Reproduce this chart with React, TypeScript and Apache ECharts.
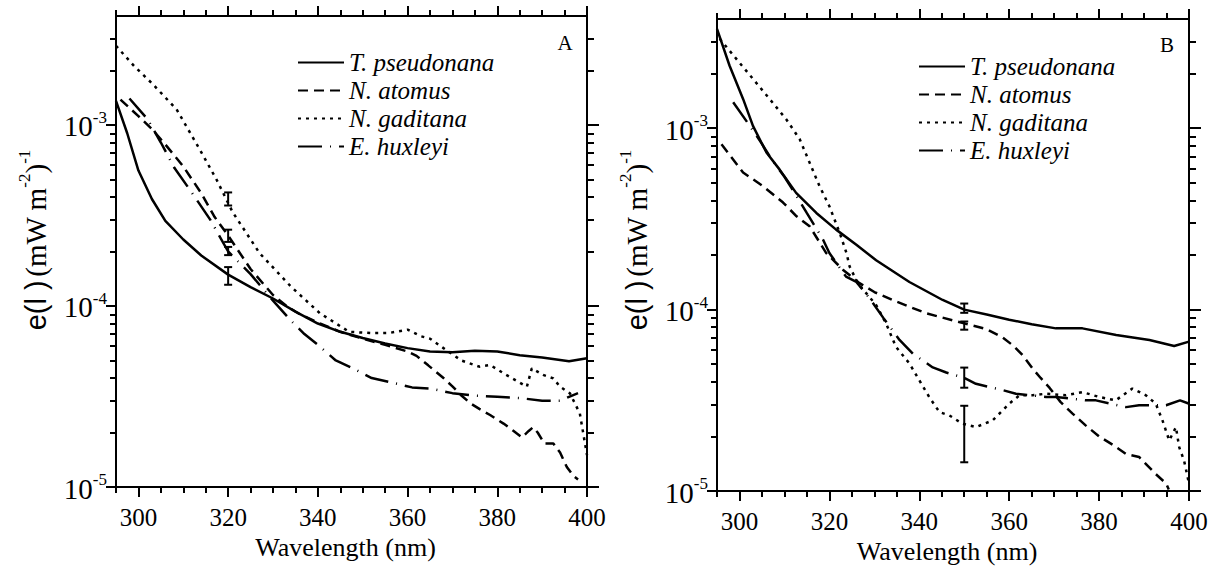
import React, { useEffect, useRef } from 'react';
import * as echarts from 'echarts';

const SERIF = 'Liberation Serif';
const SANS = 'Liberation Sans';

const seriesNames = ['T. pseudonana', 'N. atomus', 'N. gaditana', 'E. huxleyi'];

// ---------- Panel A ----------
const tpA_wl = [295, 297.5, 300, 303, 306, 310, 314, 320, 325, 330, 335, 340, 345, 350, 355, 360, 365, 370, 375, 380, 385, 390, 396, 400];
const tpA_v = [1.36e-3, 9.0e-4, 5.6e-4, 3.9e-4, 2.95e-4, 2.33e-4, 1.9e-4, 1.49e-4, 1.27e-4, 1.1e-4, 9.3e-5, 8.0e-5, 7.2e-5, 6.65e-5, 6.2e-5, 5.85e-5, 5.6e-5, 5.55e-5, 5.65e-5, 5.6e-5, 5.35e-5, 5.2e-5, 4.95e-5, 5.15e-5];

const naA_wl = [296, 300, 303, 306, 310, 314, 317, 320, 325, 330, 333, 336, 340, 345, 350, 355, 360, 362, 364.6, 366, 368, 370, 372, 374, 376, 378.4, 381.4, 383.5, 385.5, 387, 388, 389, 390.5, 392.5, 394, 395.5, 397, 398];
const naA_v = [1.38e-3, 1.12e-3, 9.5e-4, 7.8e-4, 5.9e-4, 4.2e-4, 3.1e-4, 2.45e-4, 1.6e-4, 1.15e-4, 1.0e-4, 9.0e-5, 8.1e-5, 7.2e-5, 6.6e-5, 6.1e-5, 5.6e-5, 5.3e-5, 4.7e-5, 4.4e-5, 4.0e-5, 3.6e-5, 3.2e-5, 2.9e-5, 2.7e-5, 2.5e-5, 2.24e-5, 2.05e-5, 1.88e-5, 2.04e-5, 2.14e-5, 2.0e-5, 1.74e-5, 1.74e-5, 1.55e-5, 1.29e-5, 1.15e-5, 1.1e-5];

const ngA_wl = [295, 299, 303, 308.5, 313.7, 317.4, 321, 327, 334, 340.5, 347, 352, 356, 360, 363, 365, 368, 372, 376, 378.4, 382, 386.6, 387.7, 390.2, 392.5, 394, 396.2, 398.4, 400];
const ngA_v = [2.74e-3, 2.12e-3, 1.7e-3, 1.22e-3, 7.3e-4, 5.0e-4, 3.3e-4, 1.96e-4, 1.28e-4, 9.1e-5, 7.2e-5, 7.08e-5, 7.1e-5, 7.4e-5, 6.8e-5, 6.6e-5, 5.85e-5, 5.0e-5, 4.62e-5, 4.72e-5, 4.16e-5, 3.58e-5, 4.53e-5, 4.16e-5, 3.98e-5, 3.58e-5, 3.29e-5, 2.55e-5, 1.5e-5];

const ehA_wl = [298, 302, 305, 308, 312, 316, 320, 325, 330, 334, 337, 340, 344, 348, 352, 356, 361, 365, 370, 375, 380, 385, 390, 394, 396, 398];
const ehA_v = [1.4e-3, 1.08e-3, 8.0e-4, 5.8e-4, 4.2e-4, 3.0e-4, 2.0e-4, 1.5e-4, 1.07e-4, 8.3e-5, 7.0e-5, 6.1e-5, 5.0e-5, 4.5e-5, 4.0e-5, 3.8e-5, 3.55e-5, 3.5e-5, 3.3e-5, 3.2e-5, 3.15e-5, 3.1e-5, 3.0e-5, 3.0e-5, 3.15e-5, 3.3e-5];

const errA_wl = [320, 320, 320, 320];
const errA_low = [1.31e-4, 2.26e-4, 3.59e-4, 1.91e-4];
const errA_high = [1.64e-4, 2.64e-4, 4.24e-4, 2.12e-4];

// ---------- Panel B ----------
const tpB_wl = [295, 297.8, 300.8, 303, 306, 308.9, 312.6, 317.1, 321.5, 326, 330.4, 337.8, 345.2, 350, 355, 360, 365, 370.4, 376.3, 383.8, 391.2, 396.7, 400];
const tpB_v = [3.53e-3, 2.21e-3, 1.45e-3, 1.03e-3, 7.35e-4, 5.93e-4, 4.4e-4, 3.41e-4, 2.76e-4, 2.28e-4, 1.87e-4, 1.42e-4, 1.13e-4, 1.0e-4, 9.4e-5, 8.8e-5, 8.3e-5, 7.88e-5, 7.88e-5, 7.25e-5, 6.8e-5, 6.3e-5, 6.66e-5];

const naB_wl = [296, 300.8, 305.2, 309.7, 312.7, 315.6, 319.3, 323, 326.7, 330, 334, 341.5, 350, 355, 358.6, 361, 363, 365.3, 367, 369, 371.4, 374.1, 377, 380, 383, 386, 388.9, 392.6, 394.9, 395.5];
const naB_v = [8.15e-4, 5.7e-4, 4.8e-4, 3.89e-4, 3.27e-4, 2.88e-4, 2.05e-4, 1.66e-4, 1.4e-4, 1.25e-4, 1.13e-4, 9.55e-5, 8.4e-5, 7.8e-5, 7.0e-5, 6.3e-5, 5.6e-5, 4.7e-5, 4.2e-5, 3.7e-5, 3.1e-5, 2.67e-5, 2.3e-5, 2.0e-5, 1.8e-5, 1.6e-5, 1.54e-5, 1.24e-5, 1.1e-5, 1.02e-5];

const ngB_wl = [295.6, 299.3, 303, 306.7, 310.4, 313.4, 315.6, 317.8, 320, 322.3, 323.8, 324.5, 326.3, 330.4, 332.6, 334.8, 337.8, 340, 342.2, 344.5, 346.7, 349.6, 352.6, 356.3, 358.6, 360, 362.3, 365.2, 368.2, 372.6, 376.3, 380, 383.7, 387.4, 390.4, 392.6, 394.1, 395.6, 397.1, 397.8, 398.9, 400];
const ngB_v = [3.11e-3, 2.41e-3, 1.87e-3, 1.45e-3, 1.12e-3, 8.7e-4, 6.46e-4, 4.8e-4, 3.71e-4, 2.65e-4, 2.05e-4, 1.73e-4, 1.4e-4, 1.06e-4, 8.4e-5, 6.24e-5, 5.05e-5, 4.08e-5, 3.3e-5, 2.72e-5, 2.61e-5, 2.35e-5, 2.25e-5, 2.45e-5, 2.79e-5, 3.03e-5, 3.37e-5, 3.37e-5, 3.44e-5, 3.37e-5, 3.51e-5, 3.3e-5, 3.16e-5, 3.67e-5, 3.37e-5, 3.03e-5, 2.45e-5, 1.9e-5, 2.25e-5, 1.75e-5, 1.47e-5, 1.1e-5];

const ehB_wl = [298.6, 302.3, 305, 307.4, 310, 312.5, 315, 318.6, 320, 323.7, 326, 329, 332, 335.6, 338.6, 343, 346, 350, 352.6, 358.5, 361.5, 368.2, 370.4, 377.1, 379.3, 386, 388.9, 394.9, 398, 400];
const ehB_v = [1.39e-3, 1.03e-3, 8.2e-4, 6.6e-4, 5.4e-4, 4.3e-4, 3.4e-4, 2.43e-4, 2.05e-4, 1.52e-4, 1.42e-4, 1.15e-4, 9.0e-5, 6.8e-5, 5.7e-5, 4.8e-5, 4.5e-5, 4.2e-5, 3.9e-5, 3.6e-5, 3.44e-5, 3.3e-5, 3.3e-5, 3.16e-5, 3.16e-5, 2.9e-5, 2.97e-5, 2.97e-5, 3.16e-5, 3.03e-5];

const errB_wl = [350, 350, 350, 350];
const errB_low = [9.6e-5, 7.75e-5, 1.44e-5, 3.71e-5];
const errB_high = [1.08e-4, 8.6e-5, 2.95e-5, 4.79e-5];

// ---------- Axes ----------
const xMin = 295;
const xMax = 400;
const xMajorTicks = [300, 320, 340, 360, 380, 400];
const yMin = 1e-5;
const yMax = 4e-3;
const yMajorTicks = [1e-5, 1e-4, 1e-3];
const yMinorTicks = [2e-5, 3e-5, 4e-5, 5e-5, 6e-5, 7e-5, 8e-5, 9e-5, 2e-4, 3e-4, 4e-4, 5e-4, 6e-4, 7e-4, 8e-4, 9e-4, 2e-3, 3e-3];

const lineTypes: any[] = ['solid', [10, 6], [3, 5], [24, 8, 1, 8]];

const BLACK = '#000';
const axisLineStyle = { color: BLACK, width: 2 };

function pairs(wl: number[], v: number[]) {
  return wl.map((x, i) => [x, v[i]]);
}

function xAxesFor(g: number) {
  const base = { type: 'value', gridIndex: g, min: xMin, max: xMax, splitLine: { show: false } };
  return [
    {
      ...base,
      position: 'bottom',
      axisLine: { show: true, onZero: false, lineStyle: axisLineStyle },
      axisTick: { show: true, inside: false, length: 10, customValues: xMajorTicks, lineStyle: axisLineStyle },
      axisLabel: { show: true, customValues: xMajorTicks, margin: 18, fontSize: 25, fontFamily: SERIF, color: BLACK },
      name: 'Wavelength (nm)',
      nameLocation: 'middle',
      nameGap: 47,
      nameTextStyle: { fontSize: 26, fontFamily: SERIF, color: BLACK, padding: [0, 12, 0, 0] },
    },
    {
      ...base,
      position: 'bottom',
      interval: 5,
      axisLine: { show: false, onZero: false },
      axisTick: { show: true, inside: false, length: 6, lineStyle: axisLineStyle },
      axisLabel: { show: false },
    },
    {
      ...base,
      position: 'top',
      axisLine: { show: true, onZero: false, lineStyle: axisLineStyle },
      axisTick: { show: true, inside: false, length: 10, customValues: xMajorTicks, lineStyle: axisLineStyle },
      axisLabel: { show: false },
    },
    {
      ...base,
      position: 'top',
      interval: 5,
      axisLine: { show: false, onZero: false },
      axisTick: { show: true, inside: false, length: 6, lineStyle: axisLineStyle },
      axisLabel: { show: false },
    },
  ];
}

function yAxesFor(g: number) {
  const base = { type: 'log', logBase: 10, gridIndex: g, min: yMin, max: yMax, splitLine: { show: false }, minorSplitLine: { show: false } };
  return [
    {
      ...base,
      position: 'left',
      axisLine: { show: true, onZero: false, lineStyle: axisLineStyle },
      axisTick: { show: true, inside: false, length: 10, customValues: yMajorTicks, lineStyle: axisLineStyle },
      axisLabel: {
        show: true,
        customValues: yMajorTicks,
        margin: 9,
        fontFamily: SERIF,
        formatter: (v: number) => `{a|10}{b|${Math.round(Math.log10(v))}}`,
        rich: {
          a: { fontSize: 29, fontFamily: SERIF, color: BLACK, lineHeight: 32, verticalAlign: 'bottom' },
          b: { fontSize: 17, fontFamily: SERIF, color: BLACK, lineHeight: 17, verticalAlign: 'top' },
        },
      },
    },
    {
      ...base,
      position: 'left',
      axisLine: { show: false, onZero: false },
      axisTick: { show: true, inside: false, length: 6, customValues: yMinorTicks, lineStyle: axisLineStyle },
      axisLabel: { show: false },
    },
    {
      ...base,
      position: 'right',
      axisLine: { show: true, onZero: false, lineStyle: axisLineStyle },
      axisTick: { show: true, inside: false, length: 12, customValues: yMajorTicks, lineStyle: axisLineStyle },
      axisLabel: { show: false },
    },
    {
      ...base,
      position: 'right',
      axisLine: { show: false, onZero: false },
      axisTick: { show: true, inside: false, length: 7, customValues: yMinorTicks, lineStyle: axisLineStyle },
      axisLabel: { show: false },
    },
  ];
}

function lineSeries(g: number, data: number[][][]) {
  return data.map((d, i) => ({
    type: 'line',
    name: seriesNames[i],
    xAxisIndex: g * 4,
    yAxisIndex: g * 4,
    data: d,
    symbol: 'none',
    showSymbol: false,
    smooth: false,
    clip: true,
    lineStyle: { color: BLACK, width: 2.5, type: lineTypes[i] },
    itemStyle: { color: BLACK },
    emphasis: { disabled: true },
    z: 3,
  }));
}

function errorSeries(g: number, wl: number[], lo: number[], hi: number[]) {
  return {
    type: 'custom',
    xAxisIndex: g * 4,
    yAxisIndex: g * 4,
    silent: true,
    z: 5,
    encode: { x: 0, y: [1, 2] },
    data: wl.map((x, i) => [x, lo[i], hi[i]]),
    renderItem: (params: any, api: any) => {
      const x = api.value(0);
      const top = api.coord([x, api.value(2)]);
      const bot = api.coord([x, api.value(1)]);
      const w = 4;
      const st = { stroke: BLACK, lineWidth: 2, fill: 'none' };
      return {
        type: 'group',
        children: [
          { type: 'line', shape: { x1: top[0], y1: top[1], x2: bot[0], y2: bot[1] }, style: st },
          { type: 'line', shape: { x1: top[0] - w, y1: top[1], x2: top[0] + w, y2: top[1] }, style: st },
          { type: 'line', shape: { x1: bot[0] - w, y1: bot[1], x2: bot[0] + w, y2: bot[1] }, style: st },
        ],
      };
    },
  };
}

function legendFor(left: number, top: number) {
  return {
    show: true,
    orient: 'vertical',
    left,
    top,
    data: seriesNames,
    itemWidth: 46,
    itemHeight: 14,
    itemGap: 3,
    padding: 0,
    selectedMode: false,
    itemStyle: { opacity: 0, borderWidth: 0, color: 'transparent' },
    textStyle: { fontSize: 25, fontFamily: SERIF, fontStyle: 'italic', color: BLACK, lineHeight: 25 },
  };
}

function yTitle(x: number) {
  return {
    type: 'text', x, y: 240, rotation: Math.PI / 2,
    style: {
      text: '{e|e(l )} {n|(mW m}{s|-2}{n|)}{s|-1}',
      rich: {
        e: { fontSize: 29, fontFamily: SANS, fill: BLACK, lineHeight: 34, verticalAlign: 'bottom' },
        n: { fontSize: 29, fontFamily: SERIF, fill: BLACK, lineHeight: 34, verticalAlign: 'bottom' },
        s: { fontSize: 17, fontFamily: SERIF, fill: BLACK, lineHeight: 17, verticalAlign: 'top' },
      },
      align: 'center', verticalAlign: 'middle', fill: BLACK,
    },
  };
}

function buildOption() {
  return {
    animation: false,
    backgroundColor: '#fff',
    textStyle: { fontFamily: SERIF },
    grid: [
      { left: 116, top: 16, width: 471, height: 471, containLabel: false, outerBoundsMode: 'none' },
      { left: 717, top: 19, width: 472, height: 472, containLabel: false, outerBoundsMode: 'none' },
    ],
    xAxis: [...xAxesFor(0), ...xAxesFor(1)],
    yAxis: [...yAxesFor(0), ...yAxesFor(1)],
    legend: [legendFor(297, 50), legendFor(918, 54)],
    series: [
      ...lineSeries(0, [pairs(tpA_wl, tpA_v), pairs(naA_wl, naA_v), pairs(ngA_wl, ngA_v), pairs(ehA_wl, ehA_v)]),
      errorSeries(0, errA_wl, errA_low, errA_high),
      ...lineSeries(1, [pairs(tpB_wl, tpB_v), pairs(naB_wl, naB_v), pairs(ngB_wl, ngB_v), pairs(ehB_wl, ehB_v)]),
      errorSeries(1, errB_wl, errB_low, errB_high),
    ],
    graphic: [
      yTitle(33),
      yTitle(634),
      { type: 'text', x: 565, y: 43, style: { text: 'A', fontSize: 21, fontFamily: SERIF, fill: BLACK, align: 'center', verticalAlign: 'middle' } },
      { type: 'text', x: 1167, y: 45, style: { text: 'B', fontSize: 21, fontFamily: SERIF, fill: BLACK, align: 'center', verticalAlign: 'middle' } },
    ],
  };
}

export default function App() {
  const ref = useRef<HTMLDivElement>(null);
  useEffect(() => {
    if (!ref.current) return;
    const chart = echarts.init(ref.current, null, { renderer: 'svg' });
    chart.setOption(buildOption() as any);
    return () => chart.dispose();
  }, []);
  return (
    <div
      ref={ref}
      style={{ position: 'absolute', left: 0, top: 0, width: 1222, height: 568, background: '#fff' }}
    />
  );
}
